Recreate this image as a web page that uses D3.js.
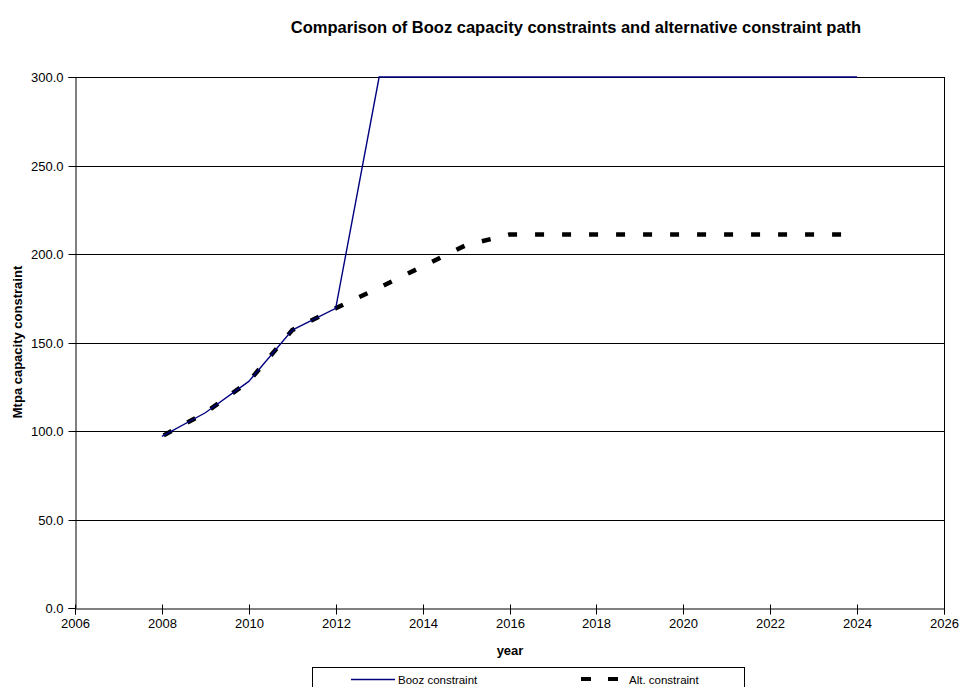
<!DOCTYPE html>
<html><head><meta charset="utf-8">
<script src="https://cdn.jsdelivr.net/npm/d3@7"></script>
<style>
body{margin:0;background:#fff;}
svg{display:block;font-family:"Liberation Sans",Arial,sans-serif;}
</style></head>
<body><svg id="c" width="961" height="687"></svg>
<script>
const years = [2008,2009,2010,2011,2012,2013,2014,2015,2016,2017,2018,2019,2020,2021,2022,2023,2024];
const boozConstraint = [97,110.3,128,157,169.3,300,300,300,300,300,300,300,300,300,300,300,300];
const altConstraint = [97,110.3,128,157,169.3,181,193,205,211,211,211,211,211,211,211,211,211];
const xTicks = [2006,2008,2010,2012,2014,2016,2018,2020,2022,2024,2026];
const yTicks = [0,50,100,150,200,250,300];
const title = "Comparison of Booz capacity constraints and alternative constraint path";

const svg = d3.select("#c");
const L=75,R=944,T=77,B=608;
const x = d3.scaleLinear().domain([2006,2026]).range([L,R]);
const y = d3.scaleLinear().domain([0,300]).range([B,T]);
const FONT = "Liberation Sans, Arial, sans-serif";

// gridlines
svg.append("g").selectAll("line").data(yTicks.filter(d=>d>0)).join("line")
  .attr("x1",L).attr("x2",R)
  .attr("y1",d=>Math.round(y(d))+0.5).attr("y2",d=>Math.round(y(d))+0.5)
  .attr("stroke","#000").attr("stroke-width",1);
// right border
svg.append("line").attr("x1",R+0.5).attr("x2",R+0.5).attr("y1",T).attr("y2",B).attr("stroke","#000");

// y axis
const ya = svg.append("g").attr("transform",`translate(${L+0.5},0)`)
  .call(d3.axisLeft(y).tickValues(yTicks).tickFormat(d3.format(".1f")).tickSize(7).tickPadding(5));
ya.select(".domain").attr("stroke","#000");
ya.selectAll("text").attr("font-size",13).attr("fill","#000").attr("font-family",FONT);
ya.selectAll(".tick line").attr("stroke","#000");
ya.selectAll(".tick").attr("transform",d=>`translate(0,${Math.round(y(d))+0.5})`);

// x axis
const xa = svg.append("g").attr("transform",`translate(0,${B+0.5})`)
  .call(d3.axisBottom(x).tickValues(xTicks).tickFormat(d3.format("d")).tickSize(6).tickPadding(4));
xa.select(".domain").attr("stroke","#000");
xa.selectAll("text").attr("font-size",13).attr("fill","#000").attr("font-family",FONT);
xa.selectAll(".tick line").attr("stroke","#000").attr("y1",-4);
xa.selectAll(".tick").attr("transform",d=>`translate(${Math.round(x(d))+0.5},0)`);

const line = d3.line().x((d,i)=>x(years[i])).y(d=>y(d));
svg.append("path").datum(altConstraint).attr("d",line)
  .attr("fill","none").attr("stroke","#000").attr("stroke-width",4.5)
  .attr("stroke-dasharray","9,18").attr("stroke-dashoffset",-2);
svg.append("path").datum(boozConstraint).attr("d",line)
  .attr("fill","none").attr("stroke","#000080").attr("stroke-width",1.4);

// titles
svg.append("text").attr("x",576).attr("y",33).attr("text-anchor","middle")
  .attr("font-size",16.5).attr("font-weight","bold").text(title);
svg.append("text").attr("x",510).attr("y",655).attr("text-anchor","middle")
  .attr("font-size",13).attr("font-weight","bold").text("year");
svg.append("text").attr("transform",`translate(22,342) rotate(-90)`).attr("text-anchor","middle")
  .attr("font-size",13).attr("font-weight","bold").text("Mtpa capacity constraint");

// legend
const lg = svg.append("g");
lg.append("rect").attr("x",312.5).attr("y",667.5).attr("width",432).attr("height",30)
  .attr("fill","#fff").attr("stroke","#000");
lg.append("line").attr("x1",351).attr("x2",395).attr("y1",679.5).attr("y2",679.5)
  .attr("stroke","#000080").attr("stroke-width",1.5);
lg.append("text").attr("x",398).attr("y",684).attr("font-size",11.5).text("Booz constraint");
lg.append("line").attr("x1",581).attr("x2",619).attr("y1",679).attr("y2",679)
  .attr("stroke","#000").attr("stroke-width",4).attr("stroke-dasharray","10,17");
lg.append("text").attr("x",629).attr("y",684).attr("font-size",11.5).text("Alt. constraint");
</script></body></html>
